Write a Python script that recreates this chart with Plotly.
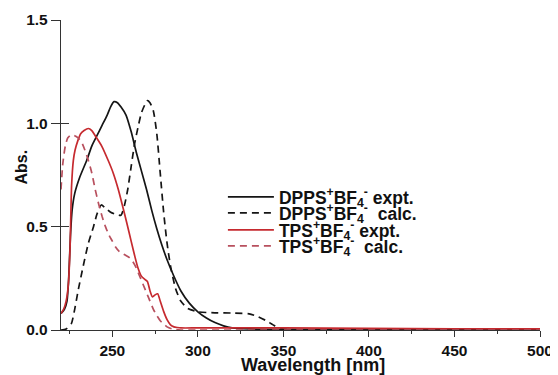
import plotly.graph_objects as go

# ---------------- data ----------------
dpps_expt_x = [220, 222, 223.5, 224.5, 225.5, 226.5, 228, 231, 235, 238, 241, 244, 247, 249, 251, 253, 255, 258,
               261, 264, 267, 270, 273, 276, 279, 282, 286, 290, 295, 300, 305, 310, 315, 320, 330, 350, 400, 450, 500]
dpps_expt_y = [0.08, 0.10, 0.14, 0.25, 0.45, 0.58, 0.66, 0.74, 0.82, 0.89, 0.94, 0.99, 1.04, 1.08, 1.105, 1.10, 1.08, 1.04,
               0.96, 0.86, 0.77, 0.68, 0.58, 0.49, 0.41, 0.34, 0.26, 0.19, 0.13, 0.088, 0.058, 0.036, 0.02, 0.01, 0.005, 0.003, 0.002, 0.002, 0.002]

dpps_calc_x = [220, 223, 226, 228, 230, 233, 236, 239, 241, 243.5, 246, 249, 252, 255, 257, 259, 261, 263, 265, 267,
               269, 270.5, 272, 274, 276, 278, 280, 282, 284, 287, 290, 294, 300, 310, 320, 330, 335, 340, 345, 350, 400, 450, 500]
dpps_calc_y = [0.0, 0.005, 0.03, 0.10, 0.19, 0.31, 0.42, 0.50, 0.56, 0.605, 0.59, 0.57, 0.56, 0.555, 0.60, 0.68, 0.79, 0.90, 0.98, 1.05,
               1.09, 1.11, 1.10, 1.06, 0.95, 0.76, 0.57, 0.42, 0.31, 0.20, 0.14, 0.105, 0.088, 0.083, 0.082, 0.078, 0.065, 0.045, 0.02, 0.005, 0.0, 0.0, 0.0]

tps_expt_x = [220, 221.5, 223, 224.3, 225.3, 226.2, 227.2, 228.2, 230, 231.5, 233.5, 236, 238, 240, 243.8, 247.6, 250.5, 253.5, 256,
              258.4, 261, 263.2, 265, 267, 269, 270.5, 272, 273.5, 275, 276.5, 278, 280, 282, 284, 286, 288, 290, 300, 350, 400, 450, 500]
tps_expt_y = [0.08, 0.10, 0.14, 0.22, 0.40, 0.70, 0.82, 0.87, 0.92, 0.95, 0.965, 0.975, 0.965, 0.94, 0.89, 0.82, 0.76, 0.68, 0.60,
              0.52, 0.43, 0.355, 0.30, 0.26, 0.245, 0.235, 0.19, 0.16, 0.17, 0.175, 0.14, 0.09, 0.05, 0.025, 0.015, 0.012, 0.01, 0.01, 0.01, 0.008, 0.006, 0.005]

tps_calc_x = [220, 221, 222.5, 224, 226, 228, 230, 232, 234, 236, 238, 240, 242, 244, 246, 248, 250, 252, 254, 256, 258,
              260, 262, 264, 266, 268, 270, 272, 274, 276, 278, 280, 282, 285, 290, 300, 500]
tps_calc_y = [0.68, 0.80, 0.89, 0.93, 0.945, 0.94, 0.93, 0.91, 0.87, 0.82, 0.76, 0.68, 0.61, 0.55, 0.50, 0.46, 0.43, 0.40, 0.38, 0.37, 0.36,
              0.35, 0.33, 0.30, 0.26, 0.22, 0.18, 0.14, 0.10, 0.07, 0.045, 0.03, 0.015, 0.005, 0.0, 0.0, 0.0]

x_tickvals = [250, 300, 350, 400, 450, 500]
y_tickvals = [0.0, 0.5, 1.0, 1.5]

names = ["DPPS<sup>+</sup>BF<sub>4</sub><sup>-</sup> expt.",
         "DPPS<sup>+</sup>BF<sub>4</sub><sup>-</sup>\u00a0 calc.",
         "TPS<sup>+</sup>BF<sub>4</sub><sup>-</sup> expt.",
         "TPS<sup>+</sup>BF<sub>4</sub><sup>-</sup>\u00a0 calc."]
x_title = "Wavelength [nm]"
y_title = "Abs."

BLACK = "#151515"
RED = "#c62a2f"
RED2 = "#b8505e"
DASH = "7px,5px"
FONT = "Liberation Sans"

fig = go.Figure()
series = [
    (dpps_expt_x, dpps_expt_y, BLACK, "solid", "legend"),
    (dpps_calc_x, dpps_calc_y, BLACK, DASH, "legend2"),
    (tps_expt_x, tps_expt_y, RED, "solid", "legend3"),
    (tps_calc_x, tps_calc_y, RED2, DASH, "legend4"),
]
for (xs, ys, col, dash, lg), nm in zip(series, names):
    fig.add_trace(go.Scatter(x=xs, y=ys, mode="lines", name=nm, legend=lg,
                             line=dict(color=col, width=1.7, dash=dash, shape="spline", smoothing=0.6)))

# invisible trace to carry inside ticks for crossing y ticks
fig.add_trace(go.Scatter(x=[None], y=[None], yaxis="y2", showlegend=False))

# page body has an 8px margin, so the figure is 8px smaller and margins shifted
PX_L, PX_R, PX_T, PX_B = 61, 540, 20, 330
def pyp(p):
    return (PX_B - p) / (PX_B - PX_T)
def pxp(p):
    return (p - PX_L) / (PX_R - PX_L)

row_y = [197, 213, 230, 246]
legend_common = dict(x=0.338, xanchor="left", yanchor="middle", bgcolor="rgba(0,0,0,0)",
                     font=dict(family=FONT, size=17.5, color="#111", weight="bold"),
                     itemwidth=46, borderwidth=0, tracegroupgap=0)
fig.update_layout(
    width=550, height=367,
    margin=dict(l=53, r=18, t=12, b=45),
    paper_bgcolor="white", plot_bgcolor="white",
    font=dict(family=FONT, color="#111"),
    legend=dict(y=pyp(row_y[0]), **legend_common),
    legend2=dict(y=pyp(row_y[1]), **legend_common),
    legend3=dict(y=pyp(row_y[2]), **legend_common),
    legend4=dict(y=pyp(row_y[3]), **legend_common),
    xaxis=dict(range=[220, 500], tickvals=x_tickvals, ticks="outside", ticklen=6, tickwidth=1.3, automargin=False,
               tickcolor="#333", showline=True, linecolor="#333", linewidth=1.3, showgrid=False, zeroline=False,
               minor=dict(dtick=25, tick0=0, ticks="outside", ticklen=3, tickcolor="#333", tickwidth=1.2),
               tickfont=dict(family=FONT, size=15.5, color="#111", weight="bold")),
    yaxis=dict(range=[0, 1.5], tickvals=y_tickvals, tickformat=".1f", ticks="outside", ticklen=9, tickwidth=1.3,
               tickcolor="#333", showline=True, linecolor="#333", linewidth=1.3, showgrid=False, zeroline=False,
               automargin=False,
               tickfont=dict(family=FONT, size=15.5, color="#111", weight="bold")),
    yaxis2=dict(range=[0, 1.5], tickvals=y_tickvals, overlaying="y", side="left", ticks="inside", ticklen=8,
                tickwidth=1.3, tickcolor="#333", showticklabels=False, showline=False, showgrid=False, zeroline=False,
                automargin=False),
    annotations=[
        dict(text=x_title, xref="paper", yref="paper", x=pxp(313), y=pyp(365), xanchor="center", yanchor="middle",
             showarrow=False, font=dict(family=FONT, size=18, color="#111", weight="bold")),
        dict(text=y_title, xref="paper", yref="paper", x=pxp(21), y=pyp(167.5), xanchor="center", yanchor="middle",
             textangle=-90, showarrow=False, font=dict(family=FONT, size=16, color="#111", weight="bold")),
    ],
)

fig.write_html("out.html")
